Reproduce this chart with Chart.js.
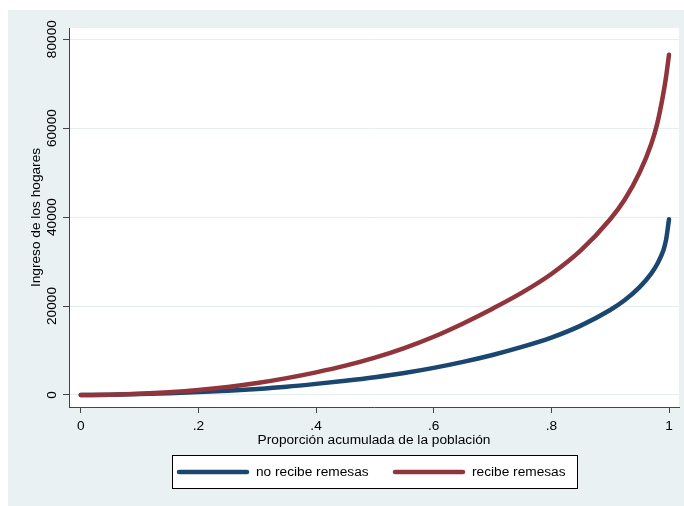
<!DOCTYPE html>
<html>
<head>
<meta charset="utf-8">
<script src="https://cdn.jsdelivr.net/npm/chart.js@4.4.1/dist/chart.umd.min.js"></script>
<style>
  html, body { margin: 0; padding: 0; background: #fff; }
  #wrap { width: 684px; height: 506px; }
</style>
</head>
<body>
<div id="wrap"><canvas id="chart" width="684" height="506"></canvas></div>
<script>
// proporcion acumulada de la poblacion (eje x)
const proportion = [0, 0.05, 0.1, 0.15, 0.2, 0.25, 0.3, 0.35, 0.4, 0.45, 0.5, 0.55, 0.6,
                    0.65, 0.7, 0.75, 0.8, 0.85, 0.9, 0.925, 0.95, 0.97, 0.98, 0.99, 0.995, 1];

// ingreso de los hogares
const noRemesas = [0, 80, 210, 400, 650, 970, 1370, 1870, 2500, 3200, 4000, 4950, 6100,
                   7450, 9000, 10800, 12900, 15600, 19100, 21350, 24250, 27350, 29450, 32350, 34850, 39500];
const conRemesas = [0, 80, 280, 630, 1130, 1810, 2690, 3790, 5090, 6590, 8390, 10540, 13090,
                    16090, 19400, 23000, 27200, 32500, 39500, 44000, 50000, 56500, 61000, 67500, 71500, 76500];

const seriesLabels = ['no recibe remesas', 'recibe remesas'];
const xTicks = [0, 0.2, 0.4, 0.6, 0.8, 1];
const xTickLabels = ['0', '.2', '.4', '.6', '.8', '1'];
const yTicks = [0, 20000, 40000, 60000, 80000];

const blue = '#1a476f';
const maroon = '#90353b';
const axisColor = '#444444';
const fontFamily = '"Liberation Sans", Arial, sans-serif';
const fontSize = 13.7;

Chart.defaults.font.family = fontFamily;
Chart.defaults.font.size = fontSize;
Chart.defaults.color = '#000';

function toPoints(values) {
    return proportion.map((p, i) => ({ x: p, y: values[i] }));
}

const stataLook = {
    id: 'stataLook',
    beforeDraw(chart) {
        const ctx = chart.ctx;
        const a = chart.chartArea;
        ctx.save();
        ctx.fillStyle = '#eaf1f3';
        ctx.fillRect(8, 10, chart.width - 8, chart.height - 10);
        ctx.fillStyle = '#ffffff';
        ctx.fillRect(a.left, a.top, a.right - a.left, a.bottom - a.top);
        ctx.restore();
    },
    afterDraw(chart) {
        const ctx = chart.ctx;
        const yScale = chart.scales.y;
        ctx.save();
        ctx.font = fontSize + 'px ' + fontFamily;
        ctx.fillStyle = '#000';

        // y tick labels, rotated like Stata
        ctx.textAlign = 'center';
        ctx.textBaseline = 'middle';
        yTicks.forEach(v => {
            ctx.save();
            ctx.translate(52, yScale.getPixelForValue(v));
            ctx.rotate(-Math.PI / 2);
            ctx.fillText(String(v), 0, 0);
            ctx.restore();
        });

        // legend box
        ctx.fillStyle = '#ffffff';
        ctx.fillRect(172.5, 455.5, 405, 33);
        ctx.strokeStyle = '#000';
        ctx.lineWidth = 1;
        ctx.strokeRect(172.5, 455.5, 405, 33);

        const items = [[179, 247, 256], [395, 463, 472]];
        chart.data.datasets.forEach((ds, i) => {
            const [x0, x1, tx] = items[i];
            ctx.beginPath();
            ctx.strokeStyle = ds.borderColor;
            ctx.lineWidth = 4.5;
            ctx.lineCap = 'round';
            ctx.moveTo(x0, 472);
            ctx.lineTo(x1, 472);
            ctx.stroke();
            ctx.fillStyle = '#000';
            ctx.textAlign = 'left';
            ctx.textBaseline = 'middle';
            ctx.fillText(ds.label, tx, 472);
        });
        ctx.restore();
    }
};

new Chart(document.getElementById('chart'), {
    type: 'line',
    data: {
        datasets: [
            {
                label: seriesLabels[0],
                data: toPoints(noRemesas),
                borderColor: blue,
                order: 1
            },
            {
                label: seriesLabels[1],
                data: toPoints(conRemesas),
                borderColor: maroon,
                order: 0
            }
        ]
    },
    options: {
        responsive: false,
        animation: false,
        devicePixelRatio: 1,
        layout: { padding: { left: 0, right: 5, top: 28, bottom: 58 } },
        elements: {
            line: {
                borderWidth: 4.5,
                fill: false,
                cubicInterpolationMode: 'monotone',
                borderCapStyle: 'round',
                borderJoinStyle: 'round'
            },
            point: { radius: 0, hoverRadius: 0 }
        },
        plugins: {
            legend: { display: false },
            tooltip: { enabled: false }
        },
        scales: {
            x: {
                type: 'linear',
                min: -0.02,
                max: 1.017,
                afterBuildTicks: s => { s.ticks = xTicks.map(v => ({ value: v })); },
                afterFit: s => { s.height = 41; },
                ticks: {
                    autoSkip: false,
                    maxRotation: 0,
                    padding: 5,
                    color: '#000',
                    callback: v => {
                        const i = xTicks.indexOf(v);
                        return i >= 0 ? xTickLabels[i] : '';
                    }
                },
                grid: {
                    drawOnChartArea: false,
                    drawTicks: true,
                    tickLength: 6,
                    tickColor: axisColor
                },
                border: { color: axisColor, width: 1 },
                title: {
                    display: true,
                    text: 'Proporción acumulada de la población',
                    color: '#000',
                    padding: { top: 0, bottom: 0 }
                }
            },
            y: {
                min: -2700,
                max: 82500,
                afterBuildTicks: s => { s.ticks = yTicks.map(v => ({ value: v })); },
                afterFit: s => { s.width = 69; },
                ticks: { display: false },
                grid: {
                    color: '#e6eef1',
                    lineWidth: 1,
                    drawTicks: true,
                    tickLength: 6,
                    tickColor: axisColor
                },
                border: { color: axisColor, width: 1 },
                title: {
                    display: true,
                    text: 'Ingreso de los hogares',
                    color: '#000',
                    padding: { top: 28, bottom: 0 }
                }
            }
        }
    },
    plugins: [stataLook]
});
</script>
</body>
</html>
